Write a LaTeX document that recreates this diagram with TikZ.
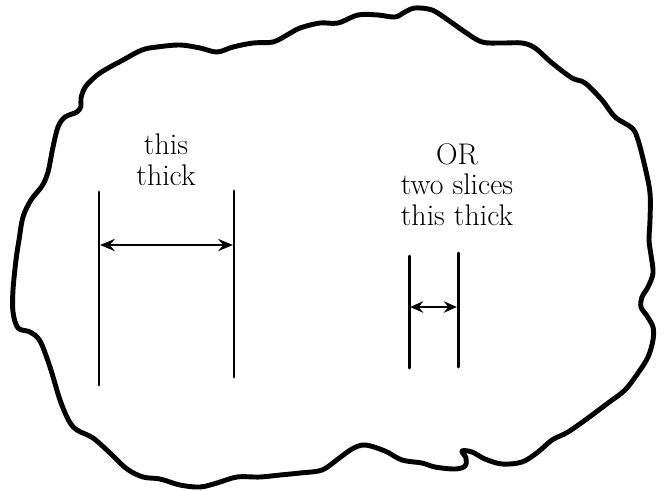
\documentclass[tikz,border=0pt]{standalone}
\usepackage{tikz}
\usetikzlibrary{arrows.meta,positioning}

\tikzset{
  slab/.style={line width=1.7pt, line cap=round},
  gap/.style={{Stealth[length=8.5pt,width=7pt,inset=3pt]}-{Stealth[length=8.5pt,width=7pt,inset=3pt]}, line width=1.1pt, shorten <=0.6pt, shorten >=0.6pt},
  smallgap/.style={{Stealth[length=7.5pt,width=6.5pt,inset=2.6pt]}-{Stealth[length=7.5pt,width=6.5pt,inset=2.6pt]}, line width=1.1pt, shorten <=0.6pt, shorten >=0.6pt},
  label/.style={align=center, font=\fontsize{17}{17.3}\selectfont, inner sep=0pt}
}

\begin{document}
\begin{tikzpicture}[x=0.02cm, y=-0.02cm]
    \useasboundingbox (0,0) rectangle (665,490);

    % Outline of the loaf
    \draw[line width=2.8pt, line join=round] plot[smooth cycle, tension=0.55] coordinates {
        (142,50) (157,47) (180,45) (200,48) (217,52) (233,47) (253,43) (273,42)
        (287,35) (300,28) (320,23) (338,23) (358,15) (378,15) (395,17) (405,12)
        (415,8) (432,10) (448,20) (465,32) (482,42) (502,43) (522,43) (535,48)
        (552,63) (572,78) (585,83) (602,100) (615,117) (632,128) (638,140) (645,167)
        (650,193) (650,220) (649,240) (651,255) (653,273) (648,287) (642,297) (641,307)
        (647,316) (653,327) (653,340) (648,357) (638,373) (625,390) (608,403) (588,418)
        (568,432) (552,440) (538,452) (522,462) (502,464) (485,459) (472,452) (462,451)
        (466,458) (465,466) (455,469) (435,467) (422,463) (402,460) (385,451) (365,445)
        (352,449) (338,459) (322,470) (300,473) (280,475) (260,477) (237,477) (217,483)
        (200,487) (180,485) (160,479) (143,477) (127,469) (110,453) (93,438) (77,430)
        (69,421) (60,400) (50,367) (40,341) (30,332) (18,328) (13,312) (13,290)
        (16,260) (19,240) (23,217) (31,200) (42,186) (48,172) (53,147) (58,127)
        (65,117) (77,112) (81,106) (81,98) (86,86) (100,73) (123,60)
    };

    % One thick slice
    \coordinate (A1) at (99,192);
    \coordinate (A2) at (99,385);
    \coordinate (B1) at (234,191);
    \coordinate (B2) at (234,377);
    \draw[slab] (A1) -- (A2);
    \draw[slab] (B1) -- (B2);
    \draw[gap] (99,245) coordinate (AL) -- (234,245) coordinate (BR);
    \node[label, anchor=base] (thick) at (166,185) {this\\thick};

    % Two thin slices
    \coordinate (C1) at (409,256);
    \coordinate (C2) at (409,368);
    \coordinate (D1) at (458,253);
    \coordinate (D2) at (458,367);
    \draw[slab] (C1) -- (C2);
    \draw[slab] (D1) -- (D2);
    \draw[smallgap] (409,307) coordinate (CL) -- (458,307) coordinate (DR);
    \node[label, anchor=base] (thin) at (457,225) {OR\\two slices\\this thick};
\end{tikzpicture}
\end{document}
